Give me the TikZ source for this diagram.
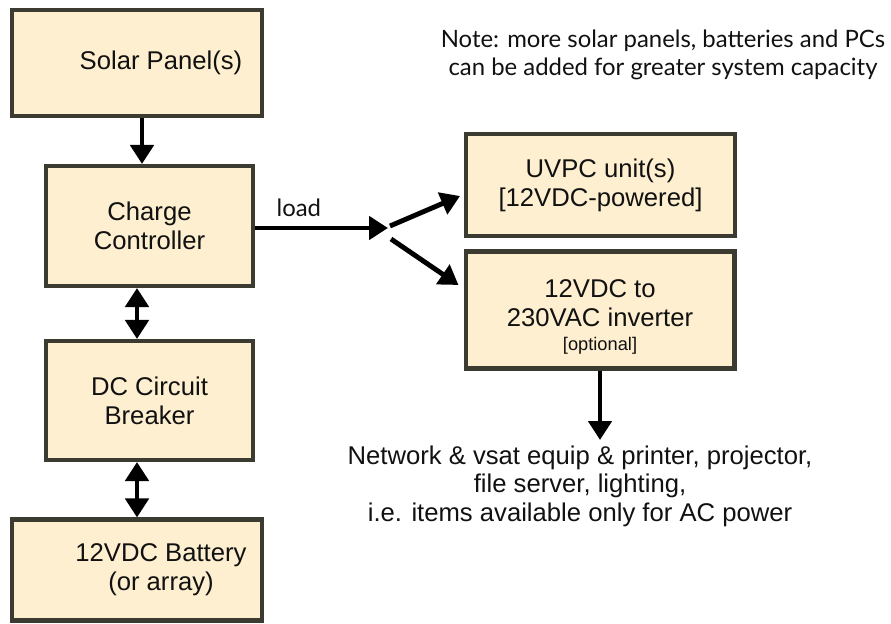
\documentclass[tikz,border=0pt]{standalone}
\usepackage{fontspec}
\setmainfont{Liberation Sans}
\newfontfamily\notefont{Lato}
\usetikzlibrary{arrows.meta,positioning,calc}
\definecolor{boxfill}{HTML}{FDEFCF}
\definecolor{boxline}{HTML}{3C3B32}
\definecolor{ink}{HTML}{111111}

\begin{document}
\begin{tikzpicture}[
    x=0.02cm, y=-0.02cm,
    >={Triangle[length=3.8mm,width=4.6mm]},
    % --- blocks -------------------------------------------------------
    block/.style={rectangle,draw=boxline,fill=boxfill,line width=2.3pt,
                  align=center,text=ink,inner sep=2pt,
                  font=\fontsize{14.6}{16.6}\selectfont},
    wide/.style={block,minimum width=5cm},
    narrow/.style={block,minimum width=4.14cm},
    side/.style={block,minimum width=5.38cm},
    % --- connectors ---------------------------------------------------
    flow/.style={draw=black,line width=2.8pt,->},
    both/.style={draw=black,line width=2.8pt,<->},
    % --- free text ----------------------------------------------------
    note/.style={align=center,text=ink,font=\notefont\fontsize{13.6}{15.6}\selectfont},
    plain/.style={align=center,text=ink,font=\fontsize{14.6}{16}\selectfont},
  ]
\useasboundingbox (0,0) rectangle (891,624);

% =====================================================================
%  Left column
% =====================================================================
\node[wide,minimum height=2.12cm]   (solar) at (137,63)    {\hspace*{0.96cm}Solar Panel(s)};
\node[narrow,minimum height=2.4cm]  (cc)    at (149.5,226) {Charge\\Controller};
\node[narrow,minimum height=2.38cm] (dcb)   at (149.5,400.5) {DC Circuit\\Breaker};
\node[wide,minimum height=2.02cm]   (batt)  at (137,570)
     {\hspace*{0.96cm}12VDC Battery\\\hspace*{0.96cm}(or array)};

\draw[flow] ($(solar.south)+(5,0)$) -- ($(cc.north)+(-7.5,0)$);
\draw[both] ($(cc.south)+(-12.5,0)$) -- ($(dcb.north)+(-12.5,0)$);
\draw[both] ($(dcb.south)+(-12.5,0)$) -- (batt.north);

% =====================================================================
%  Loads (right column)
% =====================================================================
\node[side,minimum height=2.04cm] (uvpc) at (600.5,185) {UVPC unit(s)\\{[12VDC-powered]}};
\node[side,minimum height=2.34cm] (inv)  at (600,310)
     {\rule{0pt}{18pt}12VDC to\\230VAC inverter\\[-3pt]{\fontsize{10.4}{12}\selectfont[optional]}};

% ---- load split -----------------------------------------------------
\coordinate (fork) at (388,228);
\draw[flow] (cc.east |- fork) -- (fork);
\node[note,anchor=south] at ($(cc.east)!0.33!(fork)+(0,-4)$) {load};
\draw[flow] ($(fork)+(2,-2)$) -- ($(uvpc.west)+(-4,11)$);
\draw[flow] ($(fork)+(3,11)$) -- ($(inv.west)+(-5,-25)$);

% ---- AC side ----------------------------------------------------------
\node[plain,anchor=north] (ac) at (580,440)
     {Network \& vsat equip \& printer, projector,\\
      file server, lighting,\\
      i.e. items available only for AC power};
\draw[flow] (inv.south) -- (inv.south |- ac.north);

% =====================================================================
%  Note
% =====================================================================
\node[note] (hint) at (663,55)
     {Note: more solar panels, batteries and PCs\\
      can be added for greater system capacity};

\end{tikzpicture}
\end{document}
